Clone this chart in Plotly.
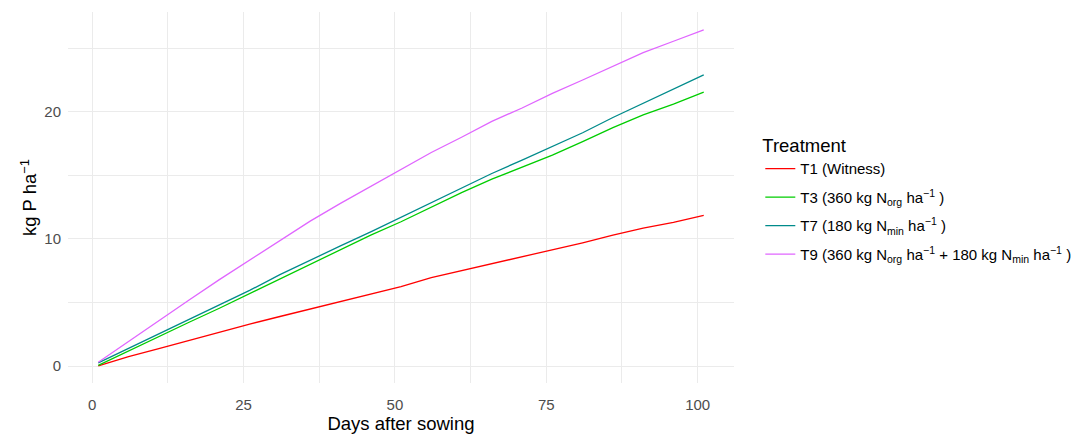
import plotly.graph_objects as go

# Sampling days (days after sowing)
days = [1, 6, 11, 16, 21, 26, 31, 36, 41, 46, 51, 56, 61, 66, 71, 76, 81, 86, 91, 96, 101]

# Cumulative P uptake (kg P ha-1) per treatment
t1_witness = [0.02, 0.75, 1.38, 2.03, 2.65, 3.30, 3.90, 4.50, 5.10, 5.65, 6.25, 6.95,
              7.50, 8.00, 8.55, 9.10, 9.70, 10.30, 10.85, 11.30, 11.85]
t3_norg = [0.05, 1.20, 2.35, 3.45, 4.55, 5.70, 6.90, 8.05, 9.20, 10.30, 11.35, 12.50,
           13.65, 14.70, 15.65, 16.60, 17.65, 18.75, 19.75, 20.60, 21.55]
t7_nmin = [0.25, 1.40, 2.55, 3.67, 4.80, 5.95, 7.20, 8.35, 9.45, 10.55, 11.70, 12.85,
           14.00, 15.15, 16.20, 17.25, 18.35, 19.55, 20.65, 21.80, 22.90]
t9_both = [0.30, 1.95, 3.60, 5.20, 6.80, 8.35, 9.90, 11.40, 12.80, 14.15, 15.45, 16.80,
           18.00, 19.25, 20.30, 21.45, 22.50, 23.55, 24.65, 25.55, 26.45]

series_names = [
    "T1 (Witness)",
    "T3 (360 kg N<sub>org</sub> ha<sup>−1</sup> )",
    "T7 (180 kg N<sub>min</sub> ha<sup>−1</sup> )",
    "T9 (360 kg N<sub>org</sub> ha<sup>−1</sup> + 180 kg N<sub>min</sub> ha<sup>−1</sup> )",
]
series_values = [t1_witness, t3_norg, t7_nmin, t9_both]
series_colors = ["#FF0000", "#00CD00", "#008B8B", "#E066FF"]

x_ticks = [0, 25, 50, 75, 100]
y_ticks = [0, 10, 20]

FONT = "Liberation Sans, Arial, sans-serif"
GRID = "#EBEBEB"

fig = go.Figure()
for i, (name, vals, col) in enumerate(zip(series_names, series_values, series_colors)):
    fig.add_trace(go.Scatter(
        x=days, y=vals, mode="lines", name=name,
        legendgroup=f"g{i}",
        line=dict(color=col, width=1.3),
    ))

fig.update_layout(
    width=1088, height=442,
    margin=dict(l=68, r=352, t=12, b=59),
    paper_bgcolor="white", plot_bgcolor="white",
    font=dict(family=FONT, size=15, color="#000000"),
    showlegend=True,
    legend=dict(
        title=dict(text="Treatment", font=dict(size=18.5, color="#000000")),
        font=dict(size=15, color="#000000"),
        x=1.0395, xanchor="left", y=0.494, yanchor="middle",
        bgcolor="rgba(0,0,0,0)", borderwidth=0,
        tracegroupgap=6, itemwidth=30,
    ),
)

fig.update_xaxes(
    range=[-4, 106], tickvals=x_ticks, ticktext=[str(v) for v in x_ticks],
    showgrid=True, gridcolor=GRID, gridwidth=1.2,
    minor=dict(dtick=12.5, tick0=0, showgrid=True, gridcolor=GRID, gridwidth=0.8),
    zeroline=False, showline=False, ticks="", ticklabelstandoff=11,
    tickfont=dict(size=15, color="#4D4D4D"),
    title=dict(text="Days after sowing", font=dict(size=18.5, color="#000000"), standoff=4),
)
fig.update_yaxes(
    range=[-1.33, 27.85], tickvals=y_ticks, ticktext=[str(v) for v in y_ticks],
    showgrid=True, gridcolor=GRID, gridwidth=1.2,
    minor=dict(dtick=5, tick0=0, showgrid=True, gridcolor=GRID, gridwidth=0.8),
    zeroline=False, showline=False, ticks="", ticklabelstandoff=6,
    tickfont=dict(size=15, color="#4D4D4D"),
    title=dict(text="kg P ha<sup>−1</sup>", font=dict(size=18.5, color="#000000"), standoff=2),
)

fig.write_html("out.html")
